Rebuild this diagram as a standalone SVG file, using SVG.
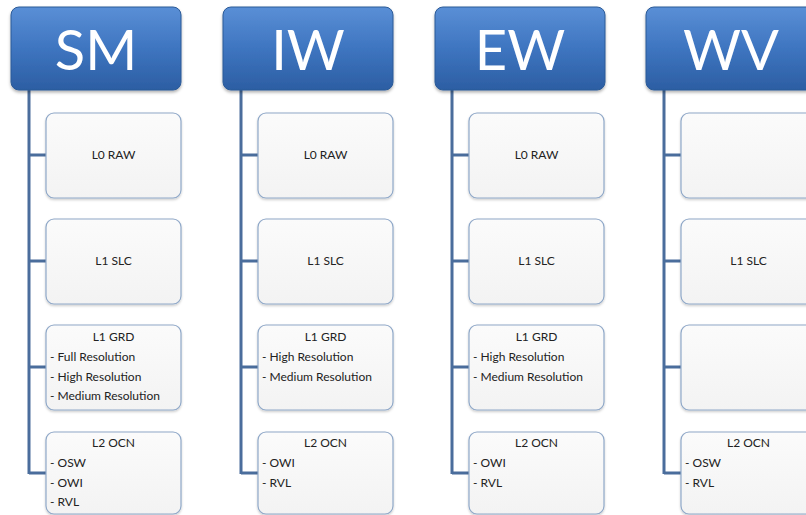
<svg xmlns="http://www.w3.org/2000/svg" width="806" height="515" viewBox="0 0 806 515">
<defs>
<linearGradient id="hg" x1="0" y1="0" x2="0" y2="1">
<stop offset="0" stop-color="#5a8fd6"/>
<stop offset="0.5" stop-color="#3e75c0"/>
<stop offset="1" stop-color="#2c5ea3"/>
</linearGradient>
<linearGradient id="bg" x1="0" y1="0" x2="0" y2="1">
<stop offset="0" stop-color="#fbfbfb"/>
<stop offset="1" stop-color="#f3f3f3"/>
</linearGradient>
<filter id="sh" x="-10%" y="-10%" width="120%" height="130%">
<feDropShadow dx="0" dy="2" stdDeviation="1.5" flood-color="#000" flood-opacity="0.3"/>
</filter>
<filter id="sh2" x="-10%" y="-10%" width="120%" height="130%">
<feDropShadow dx="0" dy="1.5" stdDeviation="1" flood-color="#000" flood-opacity="0.2"/>
</filter>
</defs>
<style>
.hd{fill:url(#hg);stroke:#2b5a97;stroke-width:1;filter:url(#sh)}
.ht{font-family:Lato,"Open Sans",sans-serif;font-size:56px;fill:#fff;text-anchor:middle}
.bx{fill:url(#bg);stroke:#8fa8c8;stroke-width:1.2;filter:url(#sh2)}
.t{font-family:Lato,"Liberation Sans",sans-serif;font-size:12px;fill:#222}
.c{text-anchor:middle}
.ln{fill:none;stroke:#4a6d9c;stroke-width:3}
</style>
<rect width="806" height="515" fill="#fff"/>
<g id="connectors">
<path class="ln" d="M29 90V474M29 155H46M29 261H46M29 367H46M29 473H46"/>
<path class="ln" d="M241 90V474M241 155H258M241 261H258M241 367H258M241 473H258"/>
<path class="ln" d="M452 90V474M452 155H469M452 261H469M452 367H469M452 473H469"/>
<path class="ln" d="M664 90V474M664 155H681M664 261H681M664 367H681M664 473H681"/>
</g>
<g id="SM">
<rect class="hd" x="11" y="7" width="170" height="83" rx="8"/>
<text class="ht" x="96" y="70">SM</text>
</g>
<g id="SM-L0"><rect class="bx" x="46" y="113" width="135" height="85" rx="8"/><text class="t c" x="113.5" y="159">L0 RAW</text></g>
<g id="SM-L1SLC"><rect class="bx" x="46" y="219" width="135" height="85" rx="8"/><text class="t c" x="113.5" y="265">L1 SLC</text></g>
<g id="SM-L1GRD"><rect class="bx" x="46" y="325" width="135" height="85" rx="8"/><text class="t c" x="113.5" y="341">L1 GRD</text><text class="t" x="50" y="361">- Full Resolution</text><text class="t" x="50" y="381">- High Resolution</text><text class="t" x="50" y="400">- Medium Resolution</text></g>
<g id="SM-L2"><rect class="bx" x="46" y="432" width="135" height="82" rx="8"/><text class="t c" x="113.5" y="447">L2 OCN</text><text class="t" x="50" y="467">- OSW</text><text class="t" x="50" y="487">- OWI</text><text class="t" x="50" y="506">- RVL</text></g>
<g id="IW">
<rect class="hd" x="223" y="7" width="170" height="83" rx="8"/>
<text class="ht" x="308" y="70">IW</text>
</g>
<g id="IW-L0"><rect class="bx" x="258" y="113" width="135" height="85" rx="8"/><text class="t c" x="325.5" y="159">L0 RAW</text></g>
<g id="IW-L1SLC"><rect class="bx" x="258" y="219" width="135" height="85" rx="8"/><text class="t c" x="325.5" y="265">L1 SLC</text></g>
<g id="IW-L1GRD"><rect class="bx" x="258" y="325" width="135" height="85" rx="8"/><text class="t c" x="325.5" y="341">L1 GRD</text><text class="t" x="262" y="361">- High Resolution</text><text class="t" x="262" y="381">- Medium Resolution</text></g>
<g id="IW-L2"><rect class="bx" x="258" y="432" width="135" height="82" rx="8"/><text class="t c" x="325.5" y="447">L2 OCN</text><text class="t" x="262" y="467">- OWI</text><text class="t" x="262" y="487">- RVL</text></g>
<g id="EW">
<rect class="hd" x="435" y="7" width="170" height="83" rx="8"/>
<text class="ht" x="520" y="70">EW</text>
</g>
<g id="EW-L0"><rect class="bx" x="469" y="113" width="135" height="85" rx="8"/><text class="t c" x="536.5" y="159">L0 RAW</text></g>
<g id="EW-L1SLC"><rect class="bx" x="469" y="219" width="135" height="85" rx="8"/><text class="t c" x="536.5" y="265">L1 SLC</text></g>
<g id="EW-L1GRD"><rect class="bx" x="469" y="325" width="135" height="85" rx="8"/><text class="t c" x="536.5" y="341">L1 GRD</text><text class="t" x="473" y="361">- High Resolution</text><text class="t" x="473" y="381">- Medium Resolution</text></g>
<g id="EW-L2"><rect class="bx" x="469" y="432" width="135" height="82" rx="8"/><text class="t c" x="536.5" y="447">L2 OCN</text><text class="t" x="473" y="467">- OWI</text><text class="t" x="473" y="487">- RVL</text></g>
<g id="WV">
<rect class="hd" x="646" y="7" width="170" height="83" rx="8"/>
<text class="ht" x="731" y="70">WV</text>
</g>
<g id="WV-L0"><rect class="bx" x="681" y="113" width="135" height="85" rx="8"/></g>
<g id="WV-L1SLC"><rect class="bx" x="681" y="219" width="135" height="85" rx="8"/><text class="t c" x="748.5" y="265">L1 SLC</text></g>
<g id="WV-L1GRD"><rect class="bx" x="681" y="325" width="135" height="85" rx="8"/></g>
<g id="WV-L2"><rect class="bx" x="681" y="432" width="135" height="82" rx="8"/><text class="t c" x="748.5" y="447">L2 OCN</text><text class="t" x="685" y="467">- OSW</text><text class="t" x="685" y="487">- RVL</text></g>
</svg>
